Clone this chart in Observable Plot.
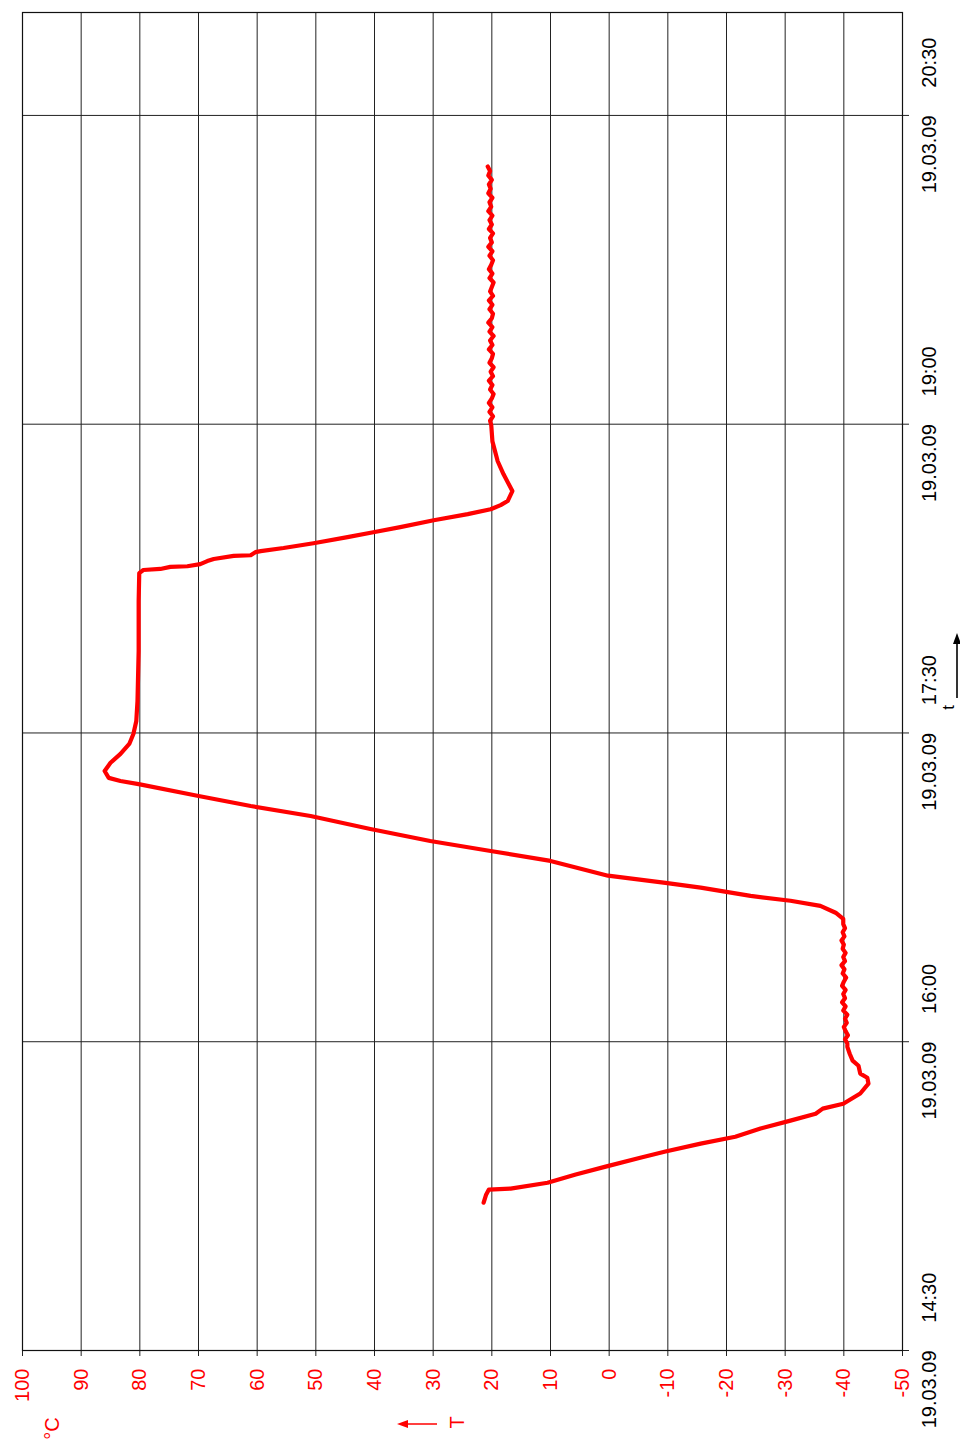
<!DOCTYPE html>
<html>
<head>
<meta charset="utf-8">
<script src="https://cdn.jsdelivr.net/npm/d3@7"></script>
<script src="https://cdn.jsdelivr.net/npm/@observablehq/plot@0.6"></script>
<style>
  html, body { margin: 0; padding: 0; background: #fff; }
  svg { display: block; }
</style>
</head>
<body>
<div id="chart"></div>
<script>
// Time of day in minutes after midnight (19.03.09)
const timeMinutes = [
  913.1, 915.3, 916.9, 917.2, 918.9, 921.3, 923.6, 926.2, 928.0, 930.3,
  932.3, 934.7, 937.0, 939.0, 940.5, 941.9, 944.9, 947.8, 949.5, 950.7,
  953.0, 954.5, 956.5, 958.5,
  959.5, 960.7, 961.9, 963.1, 964.3, 965.5, 966.7, 967.9, 969.1, 970.3,
  971.5, 972.7, 973.9, 975.1, 976.3, 977.5, 978.7, 979.9, 981.1, 982.3,
  983.5, 984.7, 985.9, 987.1, 988.3, 989.5, 990.7, 991.9, 993.1, 994.3,
  995.8, 997.6, 999.6, 1001.1, 1002.5, 1004.9, 1006.3, 1008.4, 1012.7, 1015.6,
  1018.5, 1022.0, 1025.8, 1028.7, 1031.7, 1035.1, 1036.0, 1036.9, 1038.9, 1041.3,
  1043.9, 1046.8, 1049.7, 1053.5, 1059.3, 1073.9, 1088.4, 1096.6, 1097.5, 1097.8,
  1098.4, 1098.6, 1099.2, 1100.1, 1100.7, 1101.6, 1101.8, 1102.7, 1103.0, 1103.9,
  1105.3, 1107.1, 1108.5, 1110.0, 1112.0, 1113.8, 1115.2, 1116.4, 1117.6, 1120.5,
  1125.4, 1129.2, 1135.0, 1139.7,
  1141.0, 1142.3, 1143.6, 1144.9, 1146.2, 1147.5, 1148.8, 1150.1, 1151.4, 1152.7,
  1154.0, 1155.3, 1156.6, 1157.9, 1159.2, 1160.5, 1161.8, 1163.1, 1164.4, 1165.7,
  1167.0, 1168.3, 1169.6, 1170.9, 1172.2, 1173.5, 1174.8, 1176.1, 1177.4, 1178.7,
  1180.0, 1181.3, 1182.6, 1183.9, 1185.2, 1186.5, 1187.8, 1189.1, 1190.4, 1191.7,
  1193.0, 1194.3, 1195.6, 1196.9, 1198.2, 1199.5, 1200.8, 1202.1, 1203.4, 1204.7,
  1206.0, 1207.3, 1208.6, 1209.9, 1211.2, 1212.5, 1213.8, 1215.1
];
// Temperature T in °C
const temperature = [
  21.4, 21.0, 20.5, 16.8, 10.5, 5.7, 0.6, -5.3, -9.6, -15.6,
  -21.5, -25.8, -30.9, -35.2, -36.4, -39.9, -42.8, -44.2, -44.0, -42.8,
  -42.5, -41.5, -41.0, -40.6,
  -40.6, -40.2, -40.7, -40.3, -40.0, -40.5, -40.2, -40.6, -39.9, -40.3,
  -39.7, -40.2, -39.9, -40.3, -39.7, -40.0, -40.4, -39.8, -40.1, -39.6,
  -40.2, -39.9, -40.3, -39.8, -40.0, -39.6, -40.1, -39.8, -40.2, -39.9,
  -39.9, -38.6, -36.0, -30.9, -24.1, -15.6, -9.6, 0.2, 10.0, 20.2,
  30.5, 40.7, 50.9, 61.1, 70.2, 80.2, 83.3, 85.3, 86.0, 85.0,
  83.3, 81.8, 81.1, 80.6, 80.4, 80.2, 80.2, 80.1, 79.4, 76.5,
  74.8, 71.9, 69.7, 68.5, 67.4, 64.0, 61.1, 60.3, 59.4, 55.5,
  50.4, 44.6, 40.2, 35.6, 29.9, 24.1, 20.2, 18.5, 17.3, 16.5,
  18.0, 19.0, 19.9, 20.1,
  20.3, 19.8, 20.4, 19.9, 20.5, 20.0, 19.7, 20.3, 19.9, 20.5,
  19.8, 20.2, 19.7, 20.4, 20.0, 19.8, 20.5, 19.9, 20.3, 19.7,
  20.4, 19.9, 20.6, 20.0, 19.8, 20.4, 19.9, 20.5, 19.8, 20.3,
  20.0, 19.7, 20.4, 19.9, 20.5, 20.1, 19.8, 20.4, 19.9, 20.6,
  20.0, 20.3, 19.8, 20.5, 20.0, 20.4, 19.9, 20.6, 20.1, 20.4,
  19.9, 20.6, 20.2, 20.5, 20.0, 20.6, 20.3, 20.7
];
const tempTicks = [100, 90, 80, 70, 60, 50, 40, 30, 20, 10, 0, -10, -20, -30, -40, -50];
const timeTicks = ["14:30", "16:00", "17:30", "19:00", "20:30"];
const timeDomain = ["14:30", "21:00"];
const dateLabel = "19.03.09";
const tempDomain = [100, -50];

const toDate = (hm) => { const [h, m] = hm.split(":").map(Number); return new Date(Date.UTC(2009, 2, 19, h, m)); };
const minToDate = (mins) => new Date(Date.UTC(2009, 2, 19, 0, 0) + mins * 60000);

const data = timeMinutes.map((m, i) => ({time: minToDate(m), temp: temperature[i]}));
const timeTickDates = timeTicks.map(toDate);
const timeTickData = timeTicks.map(t => ({time: toDate(t), label: dateLabel + "\u00a0\u00a0\u00a0\u00a0\u00a0" + t}));

const FONT = "'Liberation Sans', Arial, Helvetica, sans-serif";

const chart = Plot.plot({
  width: 960,
  height: 1441,
  marginTop: 12,
  marginRight: 58,
  marginBottom: 91,
  marginLeft: 22,
  style: {fontFamily: FONT, background: "#fff", overflow: "visible"},
  x: {domain: tempDomain},
  y: {type: "utc", domain: timeDomain.map(toDate)},
  marks: [
    Plot.gridX(tempTicks, {stroke: "#222", strokeOpacity: 1, strokeWidth: 1}),
    Plot.gridY(timeTickDates, {stroke: "#222", strokeOpacity: 1, strokeWidth: 1}),
    Plot.axisX(tempTicks, {anchor: "bottom", tickSize: 6, tickFormat: () => "", label: null, stroke: "#222"}),
    Plot.axisY(timeTickDates, {anchor: "right", tickSize: 6, tickFormat: () => "", label: null, stroke: "#222"}),
    Plot.frame({stroke: "#111", strokeWidth: 1.2}),
    Plot.line(data, {x: "temp", y: "time", stroke: "#ff0000", strokeWidth: 4.2, strokeLinejoin: "round", strokeLinecap: "round"}),
    // temperature tick labels (rotated)
    Plot.text(tempTicks, {x: d => d, frameAnchor: "bottom", dy: 18, rotate: -90, textAnchor: "end", lineAnchor: "middle", text: d => String(d), fill: "#ff0000", fontSize: 20}),
    // time tick labels (rotated)
    Plot.text(timeTickData, {y: "time", frameAnchor: "right", dx: 27, rotate: -90, textAnchor: "middle", lineAnchor: "middle", text: "label", fill: "#000", fontSize: 20}),
    // axis titles
    Plot.text(["T"], {frameAnchor: "bottom-left", dx: 435, dy: 72, rotate: -90, textAnchor: "middle", lineAnchor: "middle", fill: "#ff0000", fontSize: 20}),
    Plot.text(["°C"], {frameAnchor: "bottom-left", dx: 30, dy: 78, rotate: -90, textAnchor: "middle", lineAnchor: "middle", fill: "#ff0000", fontSize: 20}),
    Plot.text(["t"], {frameAnchor: "top-right", dx: 46, dy: 695, rotate: -90, textAnchor: "middle", lineAnchor: "middle", fill: "#000", fontSize: 17})
  ]
});

// arrows next to the axis titles
const svg = d3.select(chart);
const g = svg.append("g");
g.append("line").attr("x1", 437).attr("y1", 1424).attr("x2", 404).attr("y2", 1424).attr("stroke", "#ff0000").attr("stroke-width", 1.6);
g.append("polygon").attr("points", "397,1424 408,1420 408,1428").attr("fill", "#ff0000");
g.append("line").attr("x1", 957).attr("y1", 698).attr("x2", 957).attr("y2", 640).attr("stroke", "#000").attr("stroke-width", 1.6);
g.append("polygon").attr("points", "957,633 953,644 961,644").attr("fill", "#000");

document.getElementById("chart").appendChild(chart);
</script>
</body>
</html>
